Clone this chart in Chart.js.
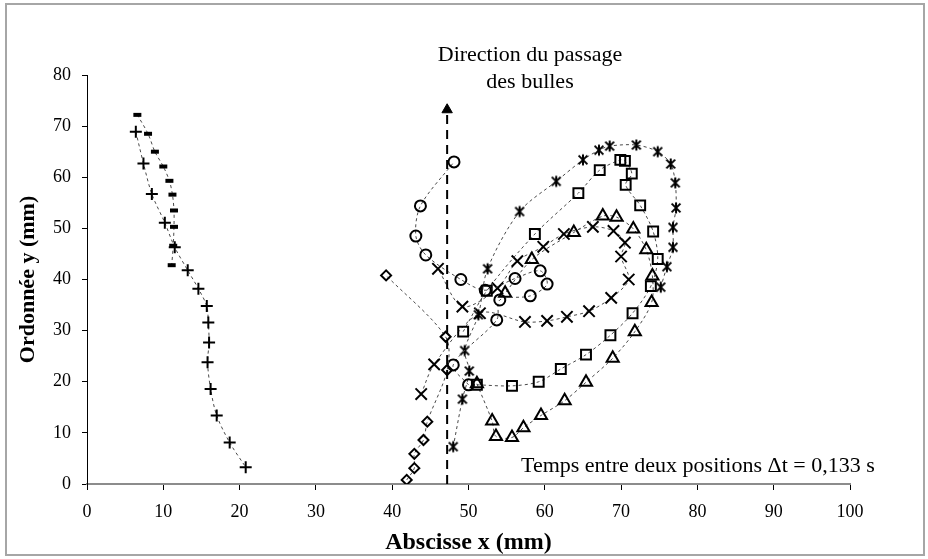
<!DOCTYPE html>
<html lang="fr">
<head>
<meta charset="utf-8">
<title>Trajectoires des bulles</title>
<script src="https://cdn.jsdelivr.net/npm/chart.js@4.4.1/dist/chart.umd.min.js"></script>
<style>
  html, body { margin: 0; padding: 0; background: #fff; }
</style>
</head>
<body>
<canvas id="trajChart" width="928" height="559"></canvas>
<script>
/* ===================================================
   Trajectoires des bulles — positions successives (x, y)
   =================================================== */

// --- Axis ticks ---
const xTicks = [0, 10, 20, 30, 40, 50, 60, 70, 80, 90, 100];
const yTicks = [0, 10, 20, 30, 40, 50, 60, 70, 80];

// --- Series: bulle "tiret" ---
const dashX = [6.6, 8.0, 8.9, 10.0, 10.8, 11.2, 11.4, 11.4, 11.3, 11.1];
const dashY = [72.2, 68.5, 65.0, 62.1, 59.3, 56.6, 53.5, 50.3, 46.6, 42.8];

// --- Series: bulle "plus" ---
const plusX = [6.4, 7.4, 8.5, 10.2, 11.5, 13.2, 14.6, 15.7, 15.9, 16.0, 15.8, 16.2, 17.0, 18.7, 20.8];
const plusY = [68.9, 62.7, 56.7, 51.1, 46.3, 41.8, 38.2, 34.8, 31.6, 27.7, 23.8, 18.6, 13.4, 8.1, 3.3];

// --- Series: bulle "losange" ---
const diamondX = [41.9, 42.9, 42.9, 44.1, 44.6, 47.2, 47.0, 39.2];
const diamondY = [0.8, 3.1, 5.9, 8.6, 12.2, 22.3, 28.8, 40.8];

// --- Series: bulle "cercle" ---
const circleX = [50.0, 48.0, 53.7, 54.1, 58.1, 60.3, 59.4, 56.1, 52.2, 49.0, 44.4, 43.1, 43.7, 48.1];
const circleY = [19.4, 23.3, 32.1, 36.0, 36.8, 39.1, 41.7, 40.2, 37.9, 40.0, 44.8, 48.5, 54.4, 63.0];

// --- Series: bulle "carré" ---
const squareX = [51.1, 55.7, 59.2, 62.1, 65.4, 68.6, 71.5, 73.9, 74.8, 74.2, 72.5, 70.6, 71.4, 70.5, 69.9, 67.2, 64.4, 58.7, 52.4, 49.3];
const squareY = [19.4, 19.2, 20.0, 22.5, 25.3, 29.1, 33.4, 38.7, 44.0, 49.4, 54.5, 58.5, 60.7, 63.2, 63.4, 61.4, 56.9, 48.9, 37.8, 29.8];

// --- Series: bulle "triangle" ---
const triangleX = [51.1, 53.1, 53.6, 55.7, 57.2, 59.5, 62.6, 65.4, 68.9, 71.8, 74.0, 74.1, 73.3, 71.6, 69.4, 67.6, 63.8, 58.3, 54.8];
const triangleY = [19.6, 12.3, 9.3, 9.1, 11.0, 13.4, 16.3, 19.9, 24.6, 29.8, 35.5, 40.7, 45.8, 49.9, 52.2, 52.4, 49.2, 43.9, 37.3];

// --- Series: bulle "croix" ---
const crossX = [43.8, 45.5, 51.5, 57.4, 60.3, 62.9, 65.8, 68.7, 71.0, 70.0, 70.5, 69.0, 66.3, 62.5, 59.8, 56.4, 53.8, 49.2, 46.0];
const crossY = [17.6, 23.4, 33.4, 31.7, 31.9, 32.7, 33.8, 36.4, 40.0, 44.5, 47.2, 49.5, 50.3, 48.9, 46.4, 43.6, 38.3, 34.7, 42.1];

// --- Series: bulle "astérisque" ---
const starX = [48.0, 49.2, 50.1, 49.5, 51.3, 52.5, 56.7, 61.5, 65.0, 67.1, 68.5, 72.0, 74.8, 76.5, 77.1, 77.2, 76.8, 76.8, 76.0, 75.2];
const starY = [7.3, 16.6, 22.1, 26.1, 33.1, 42.1, 53.3, 59.2, 63.4, 65.3, 66.1, 66.3, 65.0, 62.6, 58.9, 54.0, 50.2, 46.3, 42.5, 38.5];

// --- Flèche "direction du passage" ---
const arrowX = [47.2, 47.2];
const arrowY = [0, 73.2];

// ===================================================
// Helpers
// ===================================================
function toPoints(xs, ys) {
    return xs.map(function (x, i) { return { x: x, y: ys[i] }; });
}

// Six-branch asterisk marker (x + vertical bar)
function makeAsterisk(size) {
    var c = document.createElement("canvas");
    c.width = size;
    c.height = size;
    var g = c.getContext("2d");
    var m = size / 2;
    var r = size / 2 - 1.5;
    g.strokeStyle = "#000";
    g.lineWidth = 2;
    g.beginPath();
    g.moveTo(m - r * 0.8, m - r * 0.8); g.lineTo(m + r * 0.8, m + r * 0.8);
    g.moveTo(m + r * 0.8, m - r * 0.8); g.lineTo(m - r * 0.8, m + r * 0.8);
    g.moveTo(m, m - r); g.lineTo(m, m + r);
    g.stroke();
    return c;
}

const SERIF = "'Liberation Serif', 'Times New Roman', serif";
const LINE_COLOR = "#4a4a4a";

function trajectory(xs, ys, style, radius, extra) {
    var ds = {
        data: toPoints(xs, ys),
        showLine: true,
        borderColor: LINE_COLOR,
        borderWidth: 1,
        borderDash: [3, 3],
        tension: 0.3,
        pointStyle: style,
        pointRadius: radius,
        pointHoverRadius: radius,
        pointBorderColor: "#000",
        pointBackgroundColor: "rgba(0,0,0,0)",
        pointBorderWidth: 2,
    };
    return Object.assign(ds, extra || {});
}

// ===================================================
// Plugins: cadre extérieur + textes
// ===================================================
const framePlugin = {
    id: "frame",
    beforeDraw: function (chart) {
        var ctx = chart.ctx;
        ctx.save();
        ctx.fillStyle = "#fff";
        ctx.fillRect(0, 0, chart.width, chart.height);
        ctx.strokeStyle = "#a6a6a6";
        ctx.lineWidth = 2;
        ctx.strokeRect(6, 4, chart.width - 10, chart.height - 8);
        ctx.restore();
    },
};

const notesPlugin = {
    id: "notes",
    afterDraw: function (chart) {
        var ctx = chart.ctx;
        ctx.save();
        ctx.fillStyle = "#000";
        ctx.textAlign = "center";
        ctx.textBaseline = "middle";
        ctx.font = "22px " + SERIF;
        ctx.fillText("Direction du passage", 530, 55);
        ctx.fillText("des bulles", 530, 82);
        ctx.textAlign = "left";
        ctx.fillText("Temps entre deux positions \u0394t = 0,133 s", 521, 466);
        ctx.restore();
    },
};

// ===================================================
// Chart
// ===================================================
const ctx = document.getElementById("trajChart").getContext("2d");

new Chart(ctx, {
    type: "scatter",
    data: {
        datasets: [
            trajectory(arrowX, arrowY, "triangle", [0, 6], {
                borderColor: "#000",
                borderWidth: 2,
                borderDash: [9, 6],
                tension: 0,
                pointBackgroundColor: "#000",
                pointBorderWidth: 1,
            }),
            trajectory(dashX, dashY, "line", 4, { pointBorderWidth: 4 }),
            trajectory(plusX, plusY, "cross", 6),
            trajectory(diamondX, diamondY, "rectRot", 5),
            trajectory(circleX, circleY, "circle", 5.5),
            trajectory(squareX, squareY, "rect", 7),
            trajectory(triangleX, triangleY, "triangle", 7),
            trajectory(crossX, crossY, "crossRot", 8),
            trajectory(starX, starY, makeAsterisk(14), 7),
        ],
    },
    options: {
        responsive: false,
        animation: false,
        layout: { padding: { left: 0, right: 78, top: 75, bottom: 0 } },
        plugins: {
            legend: { display: false },
            tooltip: { enabled: false },
        },
        scales: {
            x: {
                type: "linear",
                min: xTicks[0],
                max: xTicks[xTicks.length - 1],
                afterBuildTicks: function (s) { s.ticks = xTicks.map(function (v) { return { value: v }; }); },
                afterFit: function (s) { s.height = 75; },
                border: { color: "#8c8c8c", width: 2 },
                grid: { drawOnChartArea: false, tickLength: 6, color: "#000" },
                ticks: { color: "#000", padding: 11, font: { family: SERIF, size: 18 } },
                title: {
                    display: true,
                    text: "Abscisse x (mm)",
                    color: "#000",
                    padding: { top: 0, bottom: 2 },
                    font: { family: SERIF, size: 24, weight: "bold" },
                },
            },
            y: {
                type: "linear",
                min: yTicks[0],
                max: yTicks[yTicks.length - 1],
                afterBuildTicks: function (s) { s.ticks = yTicks.map(function (v) { return { value: v }; }); },
                afterFit: function (s) { s.width = 87; },
                border: { color: "#000", width: 1 },
                grid: { drawOnChartArea: false, tickLength: 5, color: "#000" },
                ticks: { color: "#000", padding: 11, font: { family: SERIF, size: 18 } },
                title: {
                    display: true,
                    text: "Ordonnée y (mm)",
                    color: "#000",
                    padding: { top: 15, bottom: 0 },
                    font: { family: SERIF, size: 22, weight: "bold" },
                },
            },
        },
    },
    plugins: [framePlugin, notesPlugin],
});
</script>
</body>
</html>
